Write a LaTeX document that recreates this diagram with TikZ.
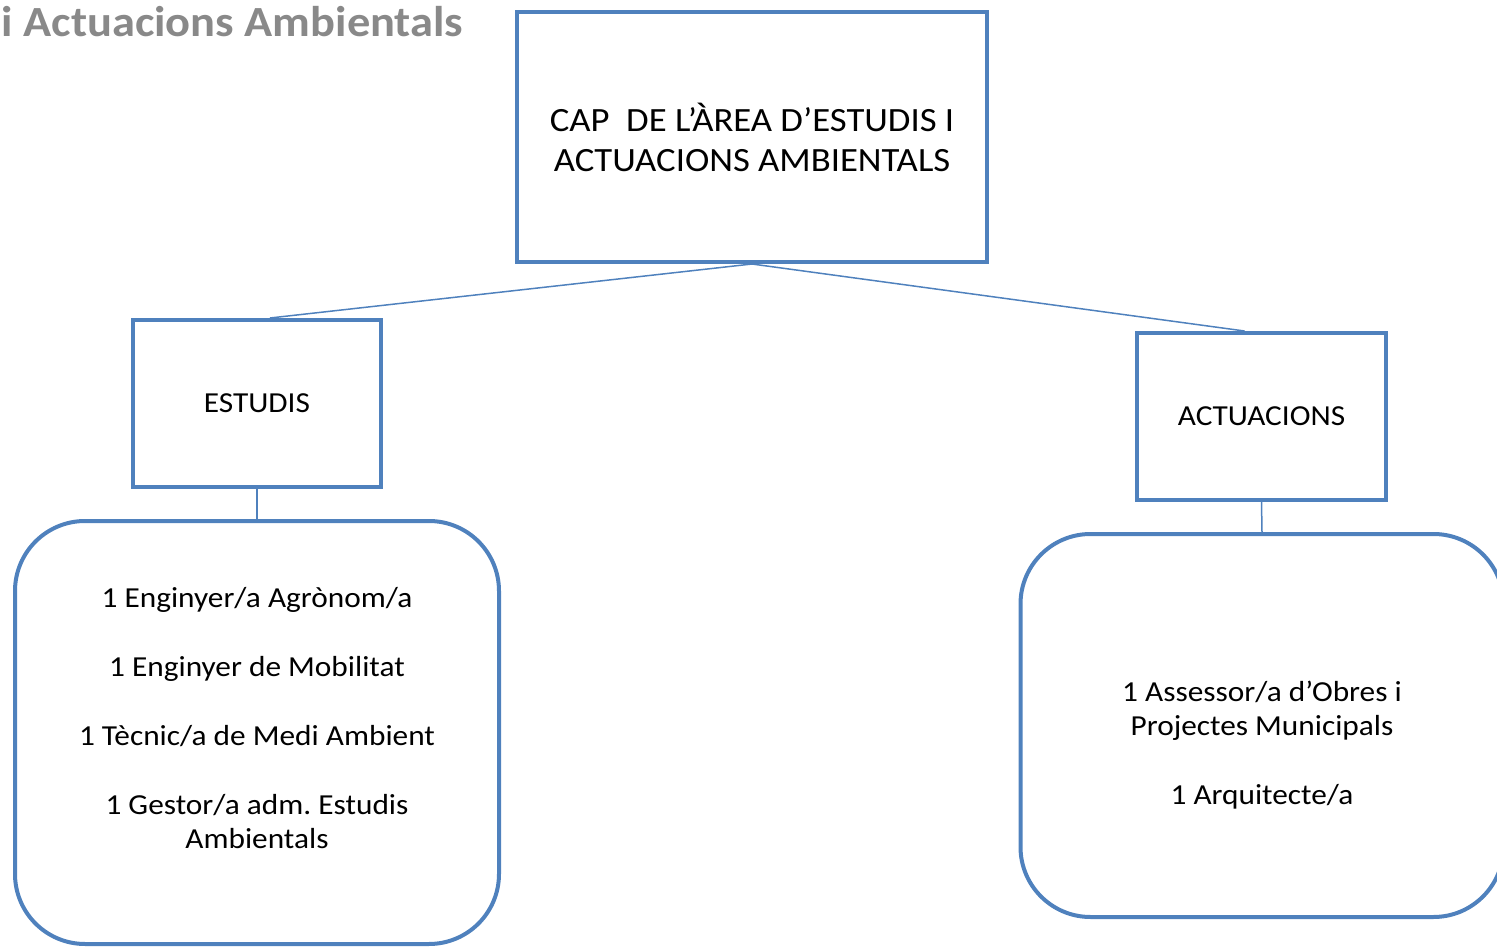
\documentclass[tikz,border=0pt]{standalone}
\usepackage{fontspec}
\setmainfont{Carlito}[FakeStretch=1.08]
\usetikzlibrary{positioning}
\definecolor{boxblue}{HTML}{4F81BD}
\definecolor{titlegray}{HTML}{898989}

\begin{document}
\begin{tikzpicture}[x=1pt,y=-1pt,
        box/.style={draw=boxblue,line width=4pt,inner sep=0pt},
        listbox/.style={box,rounded corners=70pt},
        txt/.style={align=center,font=\fontsize{29}{34}\selectfont},
        link/.style={draw=boxblue,line width=1.5pt}]
        \useasboundingbox (0,0) rectangle (1497,949);
        \clip (0,0) rectangle (1497,949);
        % title, cut at the left edge
        \node[anchor=base west,text=titlegray,font=\fontsize{43}{50}\selectfont\bfseries] (title) at (-2,37) {i Actuacions Ambientals};
        % boxes
        \node[box,txt,minimum width=470pt,minimum height=250pt,font=\fontsize{34}{40}\selectfont] (cap) at (752,137) {CAP\ \ DE L’ÀREA D’ESTUDIS I\\ACTUACIONS AMBIENTALS};
        \node[box,txt,minimum width=248pt,minimum height=167pt] (est) at (257,403.5) {ESTUDIS};
        \node[box,txt,minimum width=249pt,minimum height=167pt] (act) at (1261.5,416.5) {ACTUACIONS};
        \node[listbox,minimum width=484pt,minimum height=423pt] (lest) at (257,732.5) {};
        \node[listbox,minimum width=483pt,minimum height=383pt] (lact) at (1262,725.5) {};
        % lists
        \node[txt] (lestx) at ([yshift=14pt]lest.center) {1 Enginyer/a Agrònom/a\\[35pt]1 Enginyer de Mobilitat\\[35pt]1 Tècnic/a de Medi Ambient\\[35pt]1 Gestor/a adm.\ Estudis\\Ambientals};
        \node[txt] (lactx) at ([yshift=-20pt]lact.center) {1 Assessor/a d’Obres i\\Projectes Municipals\\[35pt]1 Arquitecte/a};
        % connectors
        \draw[link] (cap.south) -- ([xshift=13pt]est.north);
        \draw[link] (cap.south) -- ([xshift=-17pt]act.north);
        \draw[link] (est.south) -- (lest.north);
        \draw[link] (act.south) -- (lact.north);
\end{tikzpicture}
\end{document}
